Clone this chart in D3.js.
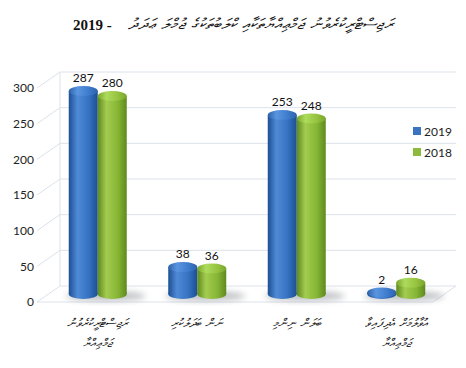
<!DOCTYPE html>
<html>
<head>
<meta charset="utf-8">
<script src="https://cdn.jsdelivr.net/npm/d3@7"></script>
<style>
  body { margin: 0; background: #fff; }
  .grid { stroke: #dde2ea; stroke-width: 1; fill: none; }
  .y-axis text { font-family: Lato, "Open Sans", sans-serif; font-size: 12px; fill: #222; }
  .y-axis path, .y-axis line { display: none; }
  .val { font-family: Lato, "Open Sans", sans-serif; font-size: 12px; fill: #111; text-anchor: middle; }
  .cat { font-family: "DejaVu Sans", sans-serif; font-size: 12px; font-style: italic; fill: #111; text-anchor: middle; }
</style>
</head>
<body>
<div id="box"></div>
<script>
const titleText = 'ރަޖިސްޓްރީކުރެވުނު ޖަމްޢިއްޔާތަކާއި ކްލަބުތަކުގެ ޖުމްލަ ޢަދަދު';
const titleYear = '2019 -';
const categories = [
  ['ރަޖިސްޓްރީކުރެވުނު', 'ޖަމްޢިއްޔާ'],
  ['ނަން ބަދަލުކުރި'],
  ['ބަލަން ނިންމި'],
  ['އުވާލުމަށް އެދިފައިވާ', 'ޖަމްޢިއްޔާ']
];
const seriesNames = ['2019', '2018'];
const values2019 = [287, 38, 253, 2];
const values2018 = [280, 36, 248, 16];
const yTicks = [0, 50, 100, 150, 200, 250, 300];

const W = 466, H = 368;
const depth = { dx: 23, dy: -16 };

const svg = d3.select('#box').append('svg')
  .attr('width', W).attr('height', H);

const defs = svg.append('defs');
function sideGrad(id, dark, mid, light) {
  const g = defs.append('linearGradient').attr('id', id)
    .attr('x1', '0%').attr('x2', '100%').attr('y1', '0%').attr('y2', '0%');
  g.append('stop').attr('offset', '0%').attr('stop-color', dark);
  g.append('stop').attr('offset', '30%').attr('stop-color', light);
  g.append('stop').attr('offset', '70%').attr('stop-color', mid);
  g.append('stop').attr('offset', '100%').attr('stop-color', dark);
}
sideGrad('blueSide', '#1d4f93', '#3471c0', '#4f8ad6');
sideGrad('greenSide', '#5e8a1e', '#85b534', '#a3cc50');
sideGrad('blueTop', '#2d62aa', '#3d7bcc', '#5a95e0');
sideGrad('greenTop', '#79a62c', '#95c23f', '#addb5c');
defs.append('filter').attr('id', 'blur')
  .attr('x', '-50%').attr('y', '-50%').attr('width', '200%').attr('height', '200%')
  .append('feGaussianBlur').attr('stdDeviation', 3);

// titolo
svg.append('text')
  .attr('x', 73).attr('y', 30)
  .attr('font-family', '"Liberation Serif", serif')
  .attr('font-size', '15px').attr('font-weight', 'bold').attr('fill', '#111')
  .text(titleYear);
svg.append('text')
  .attr('x', 394).attr('y', 29)
  .attr('text-anchor', 'end')
  .attr('font-family', '"DejaVu Sans", sans-serif')
  .attr('font-size', '15px').attr('font-style', 'italic').attr('fill', '#111')
  .attr('textLength', 266).attr('lengthAdjust', 'spacingAndGlyphs')
  .text(titleText);

// scala etichette (parete laterale)
const y = d3.scaleLinear().domain([0, 300]).range([302, 88]);

// pareti
const gridX0 = 37, gridX1 = 433;
yTicks.forEach(t => {
  svg.append('line').attr('class', 'grid')
    .attr('x1', gridX0).attr('y1', y(t))
    .attr('x2', gridX0 + depth.dx).attr('y2', y(t) + depth.dy);
  svg.append('line').attr('class', 'grid')
    .attr('x1', gridX0 + depth.dx).attr('y1', y(t) + depth.dy)
    .attr('x2', gridX1 + depth.dx).attr('y2', y(t) + depth.dy);
});
svg.append('line').attr('class', 'grid')
  .attr('x1', gridX0 + depth.dx).attr('y1', y(0) + depth.dy)
  .attr('x2', gridX0 + depth.dx).attr('y2', y(300) + depth.dy);
svg.append('line').attr('class', 'grid')
  .attr('x1', gridX0).attr('y1', y(0)).attr('x2', gridX1).attr('y2', y(0));
svg.append('line').attr('class', 'grid')
  .attr('x1', gridX1).attr('y1', y(0))
  .attr('x2', gridX1 + depth.dx).attr('y2', y(0) + depth.dy);

svg.append('g').attr('class', 'y-axis')
  .attr('transform', 'translate(36,0)')
  .call(d3.axisLeft(y).tickValues(yTicks).tickSize(0).tickPadding(2));

// barre
const x = d3.scaleBand().domain(d3.range(categories.length)).range([48, 446]);
const xs = d3.scaleBand().domain(seriesNames).range([-29, 29]);
const barY = d3.scaleLinear().domain([0, 287]).range([294, 91]);
const ry = 5;

const series = [
  { name: '2019', vals: values2019, side: 'url(#blueSide)', top: 'url(#blueTop)', color: '#3a74c1' },
  { name: '2018', vals: values2018, side: 'url(#greenSide)', top: 'url(#greenTop)', color: '#8cbb3c' }
];

// ombre
categories.forEach((c, i) => {
  const cx = x(i) + x.bandwidth() / 2;
  svg.append('ellipse').attr('cx', cx + 8).attr('cy', barY(0) + 2)
    .attr('rx', 40).attr('ry', 5).attr('fill', '#8a8f96').attr('opacity', 0.55)
    .attr('filter', 'url(#blur)');
});

series.forEach(s => {
  const g = svg.append('g');
  s.vals.forEach((v, i) => {
    const cx = x(i) + x.bandwidth() / 2 + xs(s.name) + xs.bandwidth() / 2;
    const rx = xs.bandwidth() / 2;
    const yt = barY(v), yb = barY(0);
    g.append('ellipse').attr('cx', cx).attr('cy', yb).attr('rx', rx).attr('ry', ry).attr('fill', s.side);
    g.append('rect').attr('x', cx - rx).attr('y', yt).attr('width', rx * 2).attr('height', yb - yt).attr('fill', s.side);
    g.append('ellipse').attr('cx', cx).attr('cy', yt).attr('rx', rx).attr('ry', ry).attr('fill', s.top);
    svg.append('text').attr('class', 'val')
      .attr('x', cx).attr('y', yt - 9).text(v);
  });
});

// etichette categorie
categories.forEach((lines, i) => {
  const cx = x(i) + x.bandwidth() / 2;
  lines.forEach((ln, j) => {
    svg.append('text').attr('class', 'cat')
      .attr('direction', 'rtl')
      .attr('x', cx).attr('y', 327 + j * 20).text(ln);
  });
});

// legenda
series.forEach((s, i) => {
  const ly = 131 + i * 21;
  svg.append('rect').attr('x', 413).attr('y', ly - 4).attr('width', 8).attr('height', 8).attr('fill', s.color);
  svg.append('text').attr('x', 424).attr('y', ly + 4.5)
    .attr('font-family', 'Lato, "Open Sans", sans-serif').attr('font-size', '12px').attr('fill', '#222')
    .text(s.name);
});
</script>
</body>
</html>
